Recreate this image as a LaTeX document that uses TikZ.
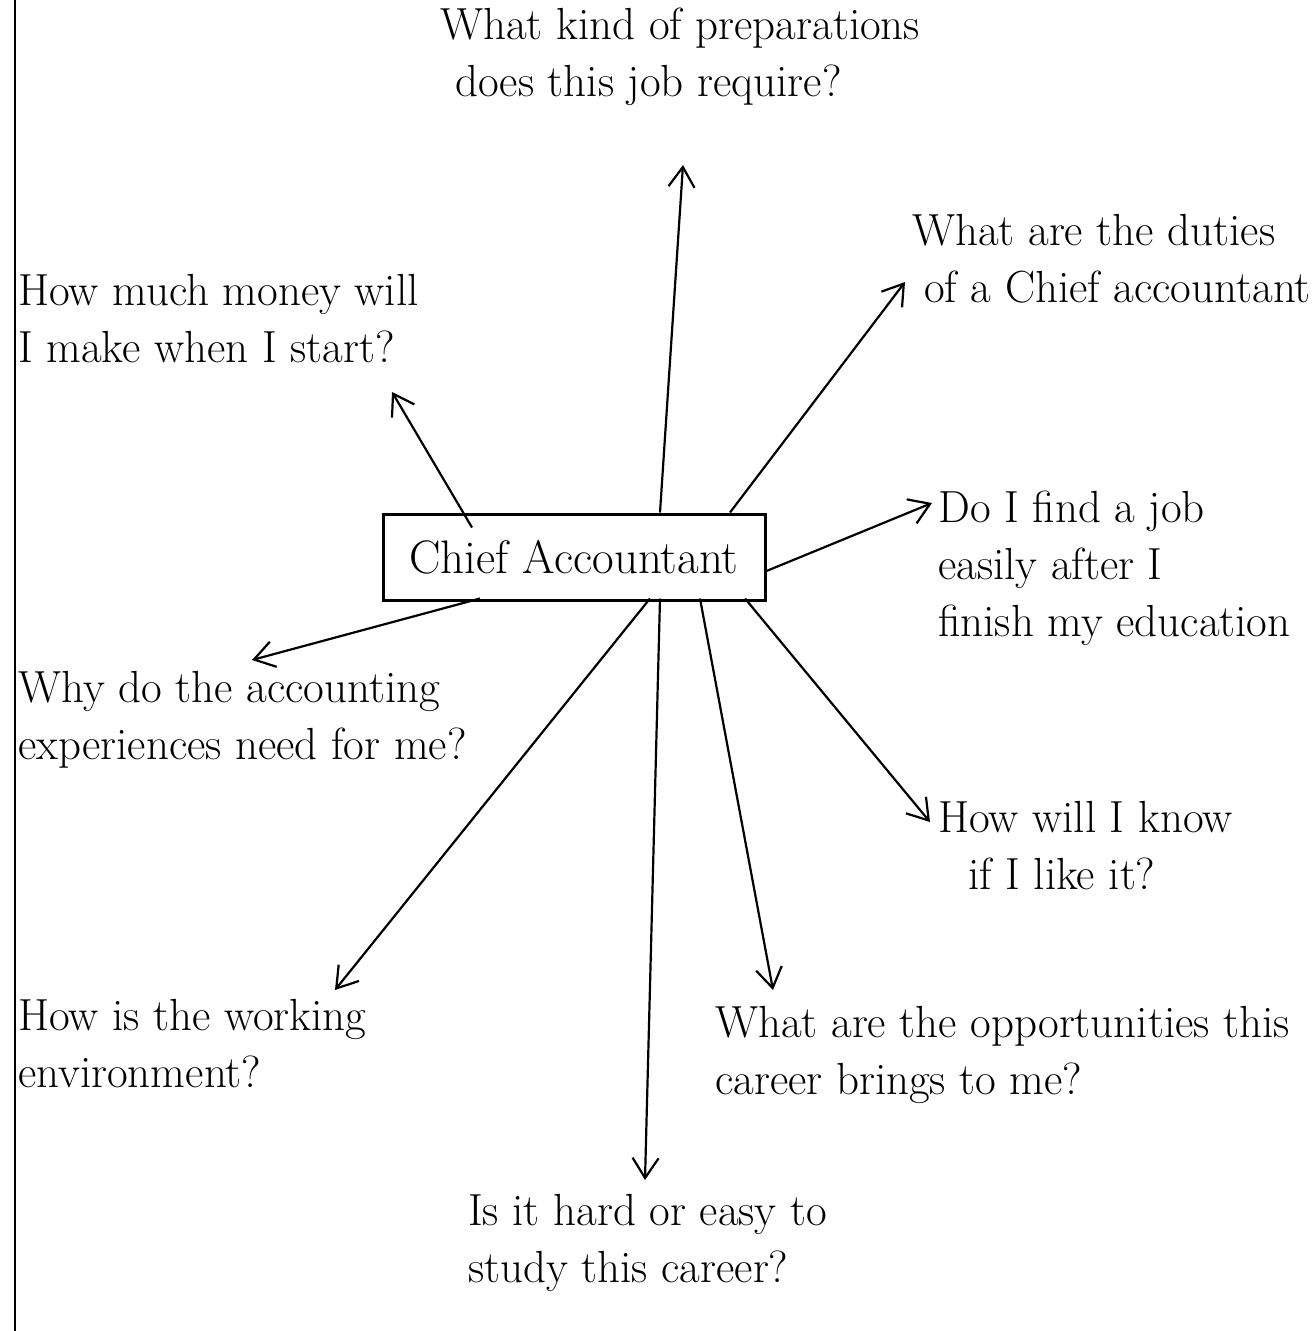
\documentclass[tikz,border=0pt]{standalone}
\usetikzlibrary{arrows.meta}
\begin{document}
\begin{tikzpicture}[x=1pt,y=-1pt,
  hand/.style={font=\fontsize{45}{57}\selectfont, inner sep=0pt, align=left},
  arr/.style={line width=2.2pt, -{Straight Barb[length=20pt,width=26pt,line width=2.2pt]}},
  boxst/.style={draw, line width=3pt, minimum width=382pt, minimum height=86pt, font=\fontsize{47}{52}\selectfont}]
\useasboundingbox (0,0) rectangle (1316,1331);
\clip (0,0) rectangle (1316,1331);
\draw[line width=2.5pt] (15,0) -- (15,1331);
\node[boxst] (box) at (574,557) {Chief Accountant};
\node[hand, anchor=north west] (q1) at (440,8) {What kind of preparations\\ \hspace*{15pt}does this job require?};
\node[hand, anchor=north west] (q2) at (912,214) {What are the duties\\ \hspace*{12pt}of a Chief accountant};
\node[hand, anchor=north west] (q3) at (18,274) {How much money will\\I make when I start?};
\node[hand, anchor=north west] (q4) at (938,491) {Do I find a job\\easily after I\\finish my education};
\node[hand, anchor=north west] (q5) at (18,671) {Why do the accounting\\experiences need for me?};
\node[hand, anchor=north west] (q6) at (938,801) {How will I know\\ \hspace*{30pt}if I like it?};
\node[hand, anchor=north west] (q7) at (18,999) {How is the working\\environment?};
\node[hand, anchor=north west] (q8) at (715,1006) {What are the opportunities this\\career brings to me?};
\node[hand, anchor=north west] (q9) at (468,1194) {Is it hard or easy to\\study this career?};
\coordinate (e1) at (683,165);
\coordinate (e2) at (905,282);
\coordinate (e3) at (392,392);
\coordinate (e4) at (932,503);
\coordinate (e5) at (252,660);
\coordinate (e6) at (930,822);
\coordinate (e7) at (335,990);
\coordinate (e8) at (645,1180);
\coordinate (e9) at (773,990);
\draw[arr] ([xshift=86pt]box.north) -- (e1);
\draw[arr] ([xshift=156pt]box.north) -- (e2);
\draw[arr] ([xshift=-102pt,yshift=-15pt]box.north) -- (e3);
\draw[arr] ([yshift=-14pt]box.east) -- (e4);
\draw[arr] ([xshift=-94pt,yshift=3pt]box.south) -- (e5);
\draw[arr] ([xshift=171pt,yshift=3pt]box.south) -- (e6);
\draw[arr] ([xshift=76pt,yshift=3pt]box.south) -- (e7);
\draw[arr] ([xshift=86pt,yshift=3pt]box.south) -- (e8);
\draw[arr] ([xshift=126pt,yshift=3pt]box.south) -- (e9);
\end{tikzpicture}
\end{document}
